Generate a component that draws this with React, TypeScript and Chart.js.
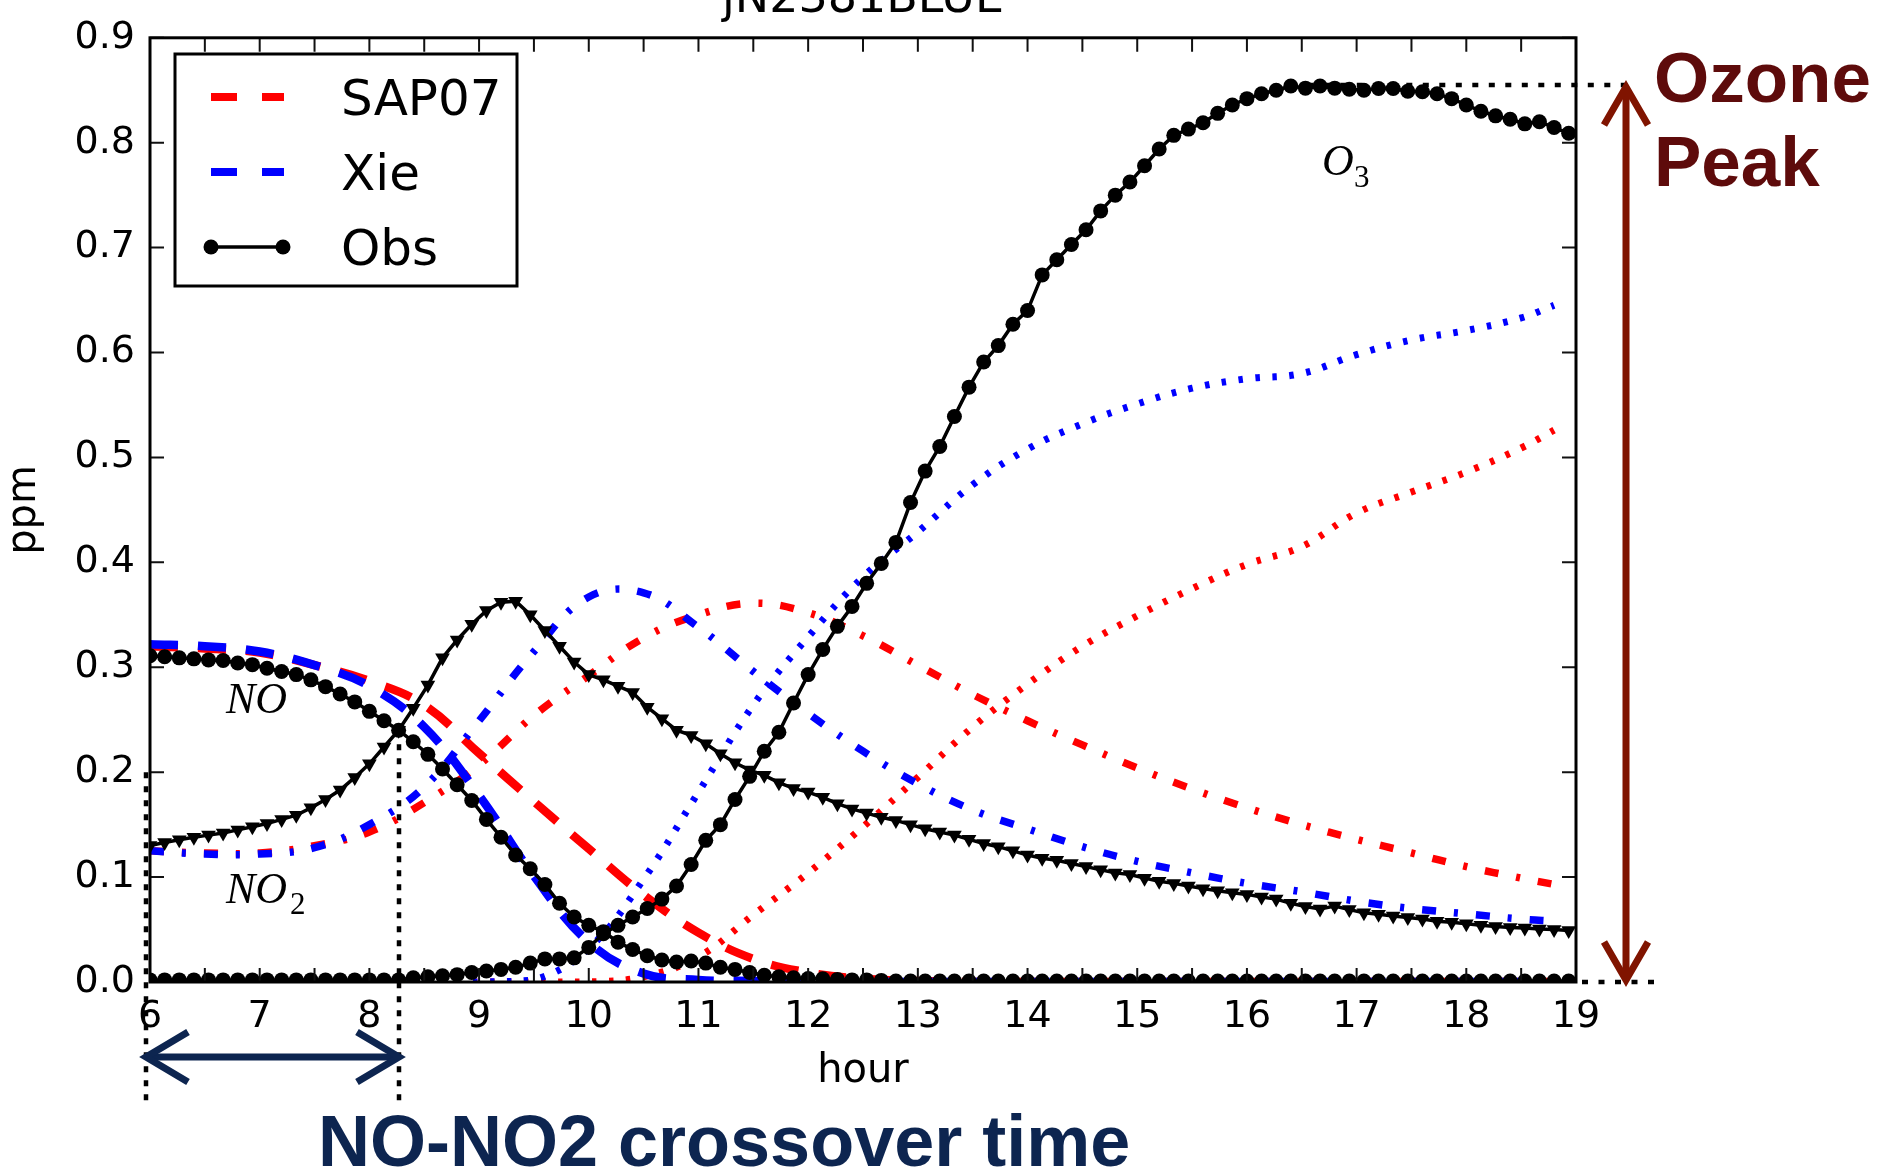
import { useEffect, useRef } from "react";
import { Chart, registerables } from "chart.js";

Chart.register(...registerables);

// ---------- data ----------
const chartTitle = "jN2381BLUE";
const xAxisTitle = "hour";
const yAxisTitle = "ppm";
const legendLabels = ["SAP07", "Xie", "Obs"];

// observation sampling: every 8 minutes starting at 6:00
const obsStartHour = 6;
const obsStepMinutes = 8;

const obsNO = [
  0.311, 0.310, 0.309, 0.308, 0.307, 0.3065, 0.304, 0.3025, 0.299, 0.296,
  0.293, 0.288, 0.2815, 0.2745, 0.267, 0.258, 0.249, 0.240, 0.229, 0.217,
  0.203, 0.188, 0.173, 0.155, 0.138, 0.121, 0.108, 0.093, 0.075, 0.062,
  0.054, 0.048, 0.038, 0.031, 0.025, 0.021, 0.019, 0.020, 0.018, 0.014,
  0.012, 0.009, 0.0065, 0.005, 0.004, 0.0033, 0.003, 0.0025, 0.002, 0.002,
  0.0015, 0.001, 0.001, 0.001, 0.001, 0.001, 0.001, 0.001, 0.001, 0.001,
  0.001, 0.001, 0.001, 0.001, 0.001, 0.001, 0.001, 0.001, 0.001, 0.001,
  0.001, 0.001, 0.001, 0.001, 0.001, 0.001, 0.001, 0.001, 0.001, 0.001,
  0.001, 0.001, 0.001, 0.001, 0.001, 0.001, 0.001, 0.001, 0.001, 0.001,
  0.001, 0.001, 0.001, 0.001, 0.001, 0.001, 0.001, 0.001,
];

const obsNO2 = [
  0.130, 0.133, 0.1355, 0.138, 0.140, 0.142, 0.145, 0.148, 0.151, 0.155,
  0.159, 0.166, 0.174, 0.183, 0.195, 0.208, 0.224, 0.240, 0.261, 0.283,
  0.309, 0.326, 0.341, 0.354, 0.362, 0.363, 0.350, 0.335, 0.320, 0.305,
  0.293, 0.288, 0.282, 0.276, 0.262, 0.251, 0.240, 0.235, 0.227, 0.2175,
  0.209, 0.202, 0.197, 0.190, 0.1845, 0.181, 0.176, 0.170, 0.165, 0.161,
  0.157, 0.154, 0.150, 0.146, 0.143, 0.140, 0.136, 0.132, 0.129, 0.125,
  0.121, 0.118, 0.116, 0.113, 0.110, 0.107, 0.104, 0.1025, 0.099, 0.096,
  0.094, 0.0915, 0.089, 0.087, 0.085, 0.0835, 0.081, 0.079, 0.075, 0.072,
  0.0695, 0.0725, 0.069, 0.066, 0.0645, 0.063, 0.0615, 0.060, 0.058, 0.057,
  0.0555, 0.054, 0.053, 0.052, 0.0515, 0.0505, 0.050, 0.049,
];

const obsO3 = [
  0.002, 0.002, 0.002, 0.002, 0.002, 0.002, 0.002, 0.002, 0.002, 0.002,
  0.002, 0.002, 0.002, 0.002, 0.002, 0.002, 0.002, 0.002,
  0.004, 0.005, 0.006, 0.007, 0.009, 0.0105, 0.012, 0.014, 0.018, 0.022, 0.022, 0.023,
  0.033, 0.046, 0.054, 0.062, 0.070, 0.079, 0.0915, 0.112, 0.135, 0.150,
  0.174, 0.196, 0.220, 0.238, 0.266, 0.293, 0.317, 0.339, 0.358, 0.380,
  0.399, 0.419, 0.457, 0.487, 0.5105, 0.539, 0.567, 0.591, 0.6066, 0.627,
  0.640, 0.674, 0.6885, 0.703, 0.717, 0.735, 0.750, 0.7625, 0.778, 0.794,
  0.807, 0.813, 0.819, 0.828, 0.836, 0.842, 0.8467, 0.850, 0.854, 0.852,
  0.854, 0.852, 0.851, 0.850, 0.8517, 0.8517, 0.849, 0.8486, 0.8467, 0.842,
  0.836, 0.830, 0.8256, 0.8224, 0.818, 0.820, 0.8145, 0.809,
];

// model output hours
const modelHours = [
  6, 6.5, 7, 7.5, 8, 8.5, 9, 9.5, 10, 10.5, 11, 11.5, 12, 12.5,
  13, 13.5, 14, 14.5, 15, 15.5, 16, 16.5, 17, 17.5, 18, 18.5, 18.8,
];

const sapNO = [
  0.320, 0.318, 0.314, 0.302, 0.287, 0.264, 0.218, 0.172, 0.127, 0.083, 0.047, 0.022, 0.009, 0.003,
  0.001, 0, 0, 0, 0, 0, 0, 0, 0, 0, 0, 0, 0,
];
const sapNO2 = [
  0.125, 0.123, 0.123, 0.130, 0.143, 0.171, 0.207, 0.254, 0.292, 0.328, 0.350, 0.361, 0.352, 0.330,
  0.302, 0.274, 0.249, 0.226, 0.204, 0.184, 0.166, 0.150, 0.136, 0.123, 0.110, 0.099, 0.093,
];
const sapO3 = [
  0, 0, 0, 0, 0, 0, 0, 0, 0, 0.005, 0.024, 0.064, 0.104, 0.148,
  0.195, 0.243, 0.284, 0.320, 0.349, 0.375, 0.398, 0.415, 0.447, 0.467, 0.486, 0.509, 0.526,
];
const xieNO = [
  0.322, 0.320, 0.315, 0.302, 0.282, 0.243, 0.178, 0.101, 0.038, 0.008, 0.002, 0.001, 0, 0,
  0, 0, 0, 0, 0, 0, 0, 0, 0, 0, 0, 0, 0,
];
const xieNO2 = [
  0.125, 0.122, 0.122, 0.128, 0.150, 0.186, 0.249, 0.315, 0.367, 0.371, 0.338, 0.296, 0.256, 0.220,
  0.189, 0.164, 0.146, 0.129, 0.115, 0.104, 0.094, 0.086, 0.077, 0.070, 0.065, 0.060, 0.058,
];
const xieO3 = [
  0, 0, 0, 0, 0, 0, 0, 0.002, 0.032, 0.098, 0.181, 0.264, 0.329, 0.386,
  0.429, 0.474, 0.508, 0.532, 0.551, 0.566, 0.575, 0.580, 0.598, 0.612, 0.621, 0.633, 0.645,
];

// annotation values
const crossoverHour = 8.27;
const crossoverValue = 0.24;
const ozonePeakValue = 0.855;
const ozonePeakHour = 16.4;
const ozoneText = ["Ozone", "Peak"];
const crossoverText = "NO-NO2 crossover time";

// ---------- styles ----------
const RED = "#ff0000";
const BLUE = "#0000ff";
const BLACK = "#000000";
const MAROON_ARROW = "#801400";
const MAROON_TEXT = "#5e0b0b";
const NAVY = "#0d2550";

const obsHours = obsNO.map((_, i) => obsStartHour + (i * obsStepMinutes) / 60);
const pts = (xs: number[], ys: number[]) => ys.map((v, i) => ({ x: xs[i], y: v }));

function chevron(ctx: CanvasRenderingContext2D, tx: number, ty: number, dx: number, dy: number, len: number, hw: number) {
  const px = -dy, py = dx;
  ctx.beginPath();
  ctx.moveTo(tx - dx * len + px * hw, ty - dy * len + py * hw);
  ctx.lineTo(tx, ty);
  ctx.lineTo(tx - dx * len - px * hw, ty - dy * len - py * hw);
  ctx.stroke();
}

const decorPlugin = {
  id: "decor",
  beforeDatasetsDraw(chart: any) {
    const { ctx, chartArea: ca, scales } = chart;
    const x = scales.x, y = scales.y;
    ctx.save();
    ctx.strokeStyle = BLACK;
    ctx.lineWidth = 4.5;
    ctx.setLineDash([6, 10.5]);
    const py = y.getPixelForValue(ozonePeakValue);
    ctx.beginPath();
    ctx.moveTo(x.getPixelForValue(ozonePeakHour), py);
    ctx.lineTo(ca.right + 52, py);
    ctx.stroke();
    const zy = y.getPixelForValue(0);
    ctx.beginPath();
    ctx.moveTo(ca.right + 6, zy);
    ctx.lineTo(ca.right + 84, zy);
    ctx.stroke();
    ctx.setLineDash([6, 8]);
    const cx = x.getPixelForValue(crossoverHour);
    ctx.beginPath();
    ctx.moveTo(cx, y.getPixelForValue(crossoverValue));
    ctx.lineTo(cx, 1102);
    ctx.stroke();
    ctx.beginPath();
    ctx.moveTo(ca.left - 4, y.getPixelForValue(0.2));
    ctx.lineTo(ca.left - 4, 1102);
    ctx.stroke();
    ctx.restore();
  },
  afterDatasetsDraw(chart: any) {
    const { ctx, chartArea: ca, scales } = chart;
    const x = scales.x, y = scales.y;
    ctx.save();
    // ticks (inside, both sides)
    ctx.strokeStyle = "#111";
    ctx.lineWidth = 2;
    const tl = 14;
    x.ticks.forEach((t: any) => {
      const px = x.getPixelForValue(t.value);
      ctx.beginPath();
      ctx.moveTo(px, ca.bottom); ctx.lineTo(px, ca.bottom - tl);
      ctx.moveTo(px, ca.top); ctx.lineTo(px, ca.top + tl);
      ctx.stroke();
    });
    y.ticks.forEach((t: any) => {
      const py = y.getPixelForValue(t.value);
      ctx.beginPath();
      ctx.moveTo(ca.left, py); ctx.lineTo(ca.left + tl, py);
      ctx.moveTo(ca.right, py); ctx.lineTo(ca.right - tl, py);
      ctx.stroke();
    });
    // frame
    ctx.strokeStyle = BLACK;
    ctx.lineWidth = 3;
    ctx.strokeRect(ca.left, ca.top, ca.right - ca.left, ca.bottom - ca.top);

    // legend
    ctx.fillStyle = "#fff";
    ctx.fillRect(175, 54, 342, 232);
    ctx.lineWidth = 3;
    ctx.strokeStyle = BLACK;
    ctx.strokeRect(175, 54, 342, 232);
    const rows = [
      { label: legendLabels[0], color: RED, y: 97, dashed: true },
      { label: legendLabels[1], color: BLUE, y: 172, dashed: true },
      { label: legendLabels[2], color: BLACK, y: 247, dashed: false },
    ];
    rows.forEach((r) => {
      ctx.strokeStyle = r.color;
      if (r.dashed) {
        ctx.lineWidth = 8;
        ctx.setLineDash([26, 25]);
        ctx.beginPath(); ctx.moveTo(211, r.y); ctx.lineTo(284, r.y); ctx.stroke();
        ctx.setLineDash([]);
      } else {
        ctx.lineWidth = 3.5;
        ctx.beginPath(); ctx.moveTo(211, r.y); ctx.lineTo(283, r.y); ctx.stroke();
        ctx.fillStyle = BLACK;
        [211, 283].forEach((cx) => { ctx.beginPath(); ctx.arc(cx, r.y, 7.5, 0, Math.PI * 2); ctx.fill(); });
      }
      ctx.fillStyle = BLACK;
      ctx.font = "50px 'DejaVu Sans'";
      ctx.textBaseline = "alphabetic";
      ctx.textAlign = "left";
      ctx.fillText(r.label, 341, r.y + 18);
    });

    // species labels (italic math style)
    ctx.fillStyle = BLACK;
    ctx.font = "italic 44px 'Liberation Serif'";
    ctx.fillText("NO", 226, 713);
    ctx.fillText("NO", 226, 903);
    ctx.fillText("O", 1322, 175);
    ctx.font = "31px 'Liberation Serif'";
    ctx.fillText("2", 290, 914);
    ctx.fillText("3", 1354, 187);

    // title (cut at top)
    ctx.font = "46px 'DejaVu Sans'";
    ctx.textAlign = "center";
    ctx.fillText(chartTitle, (ca.left + ca.right) / 2, 12);

    // ozone peak arrow
    const ax = ca.right + 50;
    const topY = y.getPixelForValue(ozonePeakValue) + 2;
    const botY = y.getPixelForValue(0) - 2;
    ctx.strokeStyle = MAROON_ARROW;
    ctx.lineWidth = 7;
    ctx.lineJoin = "miter";
    ctx.beginPath(); ctx.moveTo(ax, topY + 4); ctx.lineTo(ax, botY - 4); ctx.stroke();
    chevron(ctx, ax, topY, 0, -1, 38, 22);
    chevron(ctx, ax, botY, 0, 1, 38, 22);
    ctx.fillStyle = MAROON_TEXT;
    ctx.textAlign = "left";
    ctx.font = "bold 71px 'Liberation Sans'";
    ctx.fillText(ozoneText[0], 1654, 102);
    ctx.fillText(ozoneText[1], 1654, 186);

    // crossover arrow
    const leftX = ca.left - 4;
    const rightX = x.getPixelForValue(crossoverHour);
    const ay = 1057;
    ctx.strokeStyle = NAVY;
    ctx.lineWidth = 7;
    ctx.beginPath(); ctx.moveTo(leftX + 4, ay); ctx.lineTo(rightX - 4, ay); ctx.stroke();
    chevron(ctx, leftX, ay, -1, 0, 42, 25);
    chevron(ctx, rightX, ay, 1, 0, 42, 25);
    ctx.fillStyle = NAVY;
    ctx.font = "bold 72px 'Liberation Sans'";
    ctx.fillText(crossoverText, 318, 1166);
    ctx.restore();
  },
};

export default function App() {
  const ref = useRef<HTMLCanvasElement | null>(null);
  useEffect(() => {
    if (!ref.current) return;
    const model = (label: string, xs: number[], ys: number[], color: string, dash: number[], width: number) => ({
      label, data: pts(xs, ys), borderColor: color, backgroundColor: color, borderWidth: width,
      borderDash: dash, borderCapStyle: "butt", pointRadius: 0, tension: 0.4, clip: 0,
    });
    const obs = (label: string, ys: number[], style: string, radius: number, rot: number) => ({
      label, data: pts(obsHours, ys), borderColor: BLACK, backgroundColor: BLACK, borderWidth: 3.5,
      pointStyle: style, pointRadius: radius, pointRotation: rot, pointBorderWidth: 0,
      pointBackgroundColor: BLACK, tension: 0, clip: 0,
    });
    const chart = new Chart(ref.current, {
      type: "line",
      data: {
        datasets: [
          obs("Obs O3", obsO3, "circle", 7.5, 0),
          obs("Obs NO2", obsNO2, "triangle", 8.5, 180),
          obs("Obs NO", obsNO, "circle", 7.5, 0),
          model("Xie O3", modelHours, xieO3, BLUE, [4.5, 12.5], 7),
          model("Xie NO2", modelHours, xieNO2, BLUE, [14, 18, 4, 18], 7.5),
          model("Xie NO", modelHours, xieNO, BLUE, [28, 20], 8.5),
          model("SAP07 O3", modelHours, sapO3, RED, [4.5, 12.5], 7),
          model("SAP07 NO2", modelHours, sapNO2, RED, [14, 18, 4, 18], 7.5),
          model("SAP07 NO", modelHours, sapNO, RED, [28, 20], 8.5),
        ] as any,
      },
      options: {
        responsive: false,
        animation: false,
        events: [],
        layout: { padding: { left: 0, right: 302, top: 30, bottom: 0 } },
        plugins: { legend: { display: false }, tooltip: { enabled: false }, title: { display: false } },
        scales: {
          x: {
            type: "linear", min: 6, max: 19,
            grid: { display: false, drawTicks: false },
            border: { display: false },
            ticks: {
              stepSize: 0.5, autoSkip: false, maxRotation: 0, minRotation: 0, padding: 12,
              color: BLACK, font: { family: "'DejaVu Sans'", size: 38 },
              callback: (v: any) => (Number.isInteger(Number(v)) ? String(v) : ""),
            },
            title: { display: true, text: xAxisTitle, color: BLACK, font: { family: "'DejaVu Sans'", size: 40 }, padding: { top: 0, bottom: 76 } },
            afterFit: (s: any) => { s.height = 190; },
          },
          y: {
            type: "linear", min: 0, max: 0.9,
            grid: { display: false, drawTicks: false },
            border: { display: false },
            ticks: {
              stepSize: 0.1, padding: 15, color: BLACK, font: { family: "'DejaVu Sans'", size: 38 },
              callback: (v: any) => Number(v).toFixed(1),
            },
            title: { display: true, text: yAxisTitle, color: BLACK, font: { family: "'DejaVu Sans'", size: 40 }, padding: { top: 1, bottom: 0 } },
            afterFit: (s: any) => { s.width = 150; },
          },
        },
      } as any,
      plugins: [decorPlugin as any],
    });
    return () => chart.destroy();
  }, []);
  return (
    <div style={{ position: "fixed", left: 0, top: 0, width: 1878, height: 1172, background: "#fff" }}>
      <canvas ref={ref} width={1878} height={1172} style={{ display: "block" }} />
    </div>
  );
}
